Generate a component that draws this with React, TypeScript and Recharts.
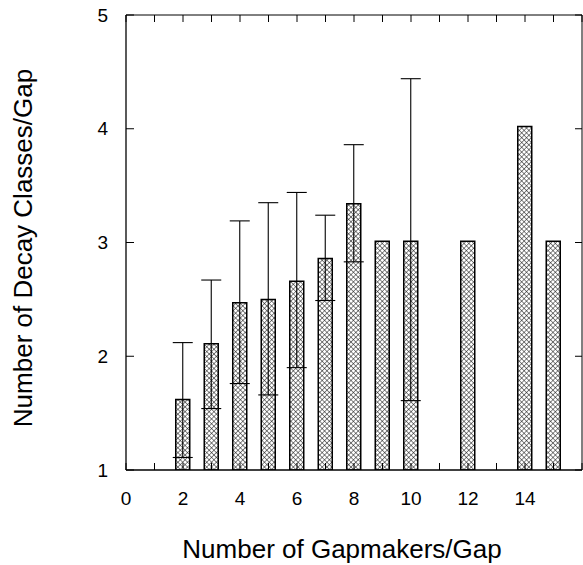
import { Bar, BarChart, ErrorBar, XAxis, YAxis } from "recharts";

const gapmakers = [2, 3, 4, 5, 6, 7, 8, 9, 10, 12, 14, 15];
const decayClasses = [1.62, 2.11, 2.47, 2.5, 2.66, 2.86, 3.34, 3.01, 3.01, 3.01, 4.02, 3.01];
const upperBound = [2.12, 2.67, 3.19, 3.35, 3.44, 3.24, 3.86, null, 4.44, null, null, null];
const lowerBound = [1.11, 1.54, 1.76, 1.66, 1.9, 2.49, 2.83, null, 1.61, null, null, null];

const xTicks = [0, 1, 2, 3, 4, 5, 6, 7, 8, 9, 10, 11, 12, 13, 14, 15, 16];
const xLabels = [0, 2, 4, 6, 8, 10, 12, 14];
const yTicks = [1, 2, 3, 4, 5];

const data = gapmakers.map((g, i) => ({
  gapmakers: g,
  mean: decayClasses[i],
  err:
    upperBound[i] == null
      ? null
      : [+(decayClasses[i] - (lowerBound[i] as number)).toFixed(2), +((upperBound[i] as number) - decayClasses[i]).toFixed(2)],
}));

const font = "'Liberation Sans', Arial, Helvetica, sans-serif";

export default function App() {
  return (
    <div style={{ position: "absolute", left: 0, top: 0, width: 583, height: 565, background: "#fff" }}>
      <style>{"body{margin:0;overflow:hidden}"}</style>
      <BarChart
        width={583}
        height={565}
        data={data}
        margin={{ top: 14, right: 0, left: 0, bottom: 0 }}
        style={{ fontFamily: font }}
      >
        <defs>
          <pattern id="crosshatch" width="3.4" height="3.4" patternUnits="userSpaceOnUse" patternTransform="rotate(45)">
            <rect width="3.4" height="3.4" fill="#fff" />
            <line x1="0" y1="0" x2="0" y2="3.4" stroke="#111" strokeWidth="1" />
            <line x1="0" y1="0" x2="3.4" y2="0" stroke="#111" strokeWidth="1" />
          </pattern>
        </defs>
        <XAxis
          dataKey="gapmakers"
          type="number"
          domain={[0, 16]}
          ticks={xTicks}
          interval={0}
          allowDataOverflow
          height={95}
          tickSize={-7}
          tickMargin={29}
          tickFormatter={(v: number) => (xLabels.includes(v) ? String(v) : "")}
          tick={{ fill: "#000", fontSize: 19, fontFamily: font }}
          axisLine={{ stroke: "#000", strokeWidth: 1.3 }}
          tickLine={{ stroke: "#000" }}
          label={{
            content: () => (
              <text x={342} y={558} textAnchor="middle" fontSize={26} fontFamily={font} fill="#000">
                Number of Gapmakers/Gap
              </text>
            ),
          }}
        />
        <XAxis
          xAxisId="top"
          orientation="top"
          dataKey="gapmakers"
          type="number"
          domain={[0, 16]}
          ticks={xTicks}
          interval={0}
          allowDataOverflow
          height={1}
          tickSize={-7}
          tickFormatter={() => ""}
          axisLine={{ stroke: "#000" }}
          tickLine={{ stroke: "#000" }}
        />
        <YAxis
          type="number"
          domain={[1, 5]}
          ticks={yTicks}
          interval={0}
          allowDataOverflow
          width={126}
          tickSize={-8}
          tickMargin={26}
          tick={{ fill: "#000", fontSize: 19, fontFamily: font }}
          axisLine={{ stroke: "#000", strokeWidth: 1.3 }}
          tickLine={{ stroke: "#000" }}
          label={{
            content: () => (
              <text
                x={32}
                y={248}
                transform="rotate(-90 32 248)"
                textAnchor="middle"
                fontSize={26}
                fontFamily={font}
                fill="#000"
              >
                Number of Decay Classes/Gap
              </text>
            ),
          }}
        />
        <YAxis
          yAxisId="right"
          orientation="right"
          type="number"
          domain={[1, 5]}
          ticks={yTicks}
          interval={0}
          allowDataOverflow
          width={1}
          tickSize={-7}
          tickFormatter={() => ""}
          axisLine={{ stroke: "#000" }}
          tickLine={{ stroke: "#000" }}
        />
        <Bar
          dataKey="mean"
          barSize={14}
          fill="url(#crosshatch)"
          stroke="#000"
          strokeWidth={1.5}
          isAnimationActive={false}
        >
          <ErrorBar dataKey="err" width={10} stroke="#000" strokeWidth={1.1} isAnimationActive={false} />
        </Bar>
      </BarChart>
    </div>
  );
}
